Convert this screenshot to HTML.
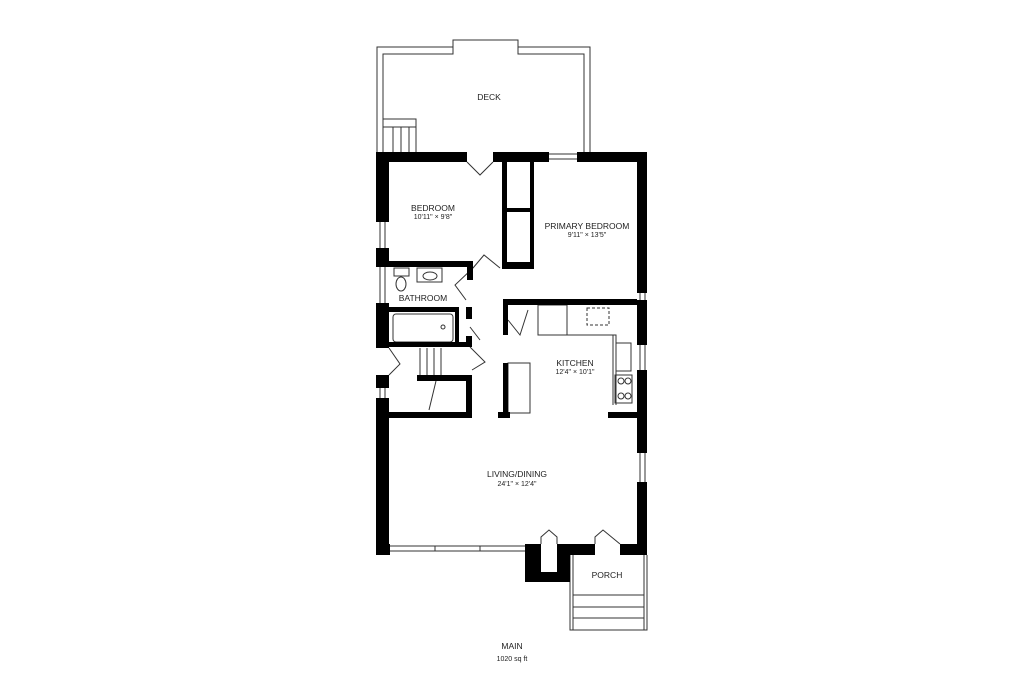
<!DOCTYPE html>
<html><head><meta charset="utf-8"><style>
html,body{margin:0;padding:0;background:#fff;}
svg{display:block;}
text{font-family:"Liberation Sans",sans-serif;fill:#222;text-anchor:middle;}
.l{font-size:8.5px;}
.d{font-size:7px;}
</style></head><body>
<svg width="1024" height="683" viewBox="0 0 1024 683" xmlns="http://www.w3.org/2000/svg">
<g fill="none" stroke="#333" stroke-width="1">
<!-- deck -->
<path d="M377,152 V47 H453 V40 H518 V47 H590 V152"/>
<path d="M383,152 V127 H416 V152 M383,127 V54 H453 V47 M518,47 V54 H584 V152"/>
<path d="M383,119 H416 V127"/>
<path d="M393,127V152 M401,127V152 M409,127V152"/>
<!-- windows -->
<path d="M549,154H577 M549,159H577"/>
<path d="M380,222V249 M385,222V249 M380,267V303 M385,267V303 M380,388V398 M385,388V398"/>
<path d="M640,293V300 M645,293V300 M640,345V370 M645,345V370 M640,453V482 M645,453V482"/>
<path d="M390,546H525 M390,551H525 M435,546V551 M480,546V551"/>
<!-- porch -->
<path d="M570,555V630H647V555 M573,555V630 M644,555V630 M573,595H644 M573,607H644 M573,618H644"/>
<!-- closets doors -->
<path d="M532,165V210 M504,215V260"/>
<!-- fixtures -->
<rect x="393" y="314" width="60" height="28" rx="3"/>
<circle cx="443" cy="327" r="2"/>
<rect x="394" y="268" width="15" height="8"/>
<ellipse cx="401" cy="284" rx="5" ry="7"/>
<rect x="417" y="268" width="25" height="14"/>
<ellipse cx="430" cy="276" rx="7" ry="4"/>
<rect x="538" y="305" width="29" height="30"/>
<path d="M567,335H616V405 M613,335V405" />
<rect x="587" y="308" width="22" height="17" stroke-dasharray="3,2"/>
<rect x="616" y="343" width="15" height="28"/>
<rect x="615" y="375" width="17" height="28"/>
<circle cx="621" cy="381" r="3"/><circle cx="628" cy="381" r="3"/><circle cx="621" cy="396" r="3"/><circle cx="628" cy="396" r="3"/>
<rect x="508" y="363" width="22" height="50"/>
<!-- stairs -->
<path d="M420,348V375 M427,348V375 M434,348V375 M441,348V375 M436,381L429,410"/>
<!-- doors -->
<path d="M467,162 L480,175 L493,162"/>
<path d="M473,268 L484,255 L500,268 M473,268 L455,285 L466,300"/>
<path d="M508,320 L520,335 L528,310"/>
<path d="M470,327 L480,340"/>
<path d="M389,348 L400,364 L389,375"/>
<path d="M470,347 L485,362 L472,370"/>
<path d="M541,544 V537 L549,530 L557,537 V544"/>
<path d="M595,544 V537 L603,530 L620,544"/>
</g>
<g fill="#000">
<!-- outer walls -->
<rect x="376" y="152" width="91" height="10"/>
<rect x="493" y="152" width="56" height="10"/>
<rect x="577" y="152" width="70" height="10"/>
<rect x="376" y="152" width="13" height="70"/>
<rect x="376" y="248" width="13" height="19"/>
<rect x="376" y="303" width="13" height="45"/>
<rect x="376" y="375" width="13" height="13"/>
<rect x="376" y="398" width="13" height="157"/>
<rect x="376" y="544" width="14" height="11"/>
<rect x="637" y="152" width="10" height="141"/>
<rect x="637" y="300" width="10" height="45"/>
<rect x="637" y="370" width="10" height="83"/>
<rect x="637" y="482" width="10" height="73"/>
<rect x="620" y="544" width="27" height="11"/>
<rect x="570" y="544" width="25" height="11"/>
<rect x="525" y="544" width="16" height="38"/>
<rect x="525" y="572" width="45" height="10"/>
<rect x="557" y="544" width="13" height="38"/>
<!-- interior -->
<rect x="389" y="261" width="84" height="6"/>
<rect x="467" y="261" width="6" height="19"/>
<rect x="502" y="161" width="5" height="107"/>
<rect x="530" y="161" width="4" height="107"/>
<rect x="502" y="262" width="32" height="7"/>
<rect x="507" y="208" width="25" height="4"/>
<rect x="389" y="307" width="70" height="5"/>
<rect x="455" y="307" width="4" height="40"/>
<rect x="466" y="307" width="6" height="12"/>
<rect x="466" y="336" width="6" height="11"/>
<rect x="389" y="342" width="83" height="5"/>
<rect x="503" y="299" width="134" height="6"/>
<rect x="503" y="299" width="5" height="36"/>
<rect x="503" y="363" width="5" height="55"/>
<rect x="498" y="412" width="12" height="6"/>
<rect x="417" y="375" width="55" height="6"/>
<rect x="466" y="375" width="6" height="43"/>
<rect x="389" y="412" width="83" height="6"/>
<rect x="608" y="412" width="29" height="6"/>
</g>
<text class="l" x="489" y="100">DECK</text>
<text class="l" x="433" y="211">BEDROOM</text>
<text class="d" x="433" y="219">10'11" × 9'8"</text>
<text class="l" x="587" y="229">PRIMARY BEDROOM</text>
<text class="d" x="587" y="237">9'11" × 13'5"</text>
<text class="l" x="423" y="301">BATHROOM</text>
<text class="l" x="575" y="366">KITCHEN</text>
<text class="d" x="575" y="374">12'4" × 10'1"</text>
<text class="l" x="517" y="477">LIVING/DINING</text>
<text class="d" x="517" y="486">24'1" × 12'4"</text>
<text class="l" x="607" y="578">PORCH</text>
<text class="l" x="512" y="649">MAIN</text>
<text class="d" x="512" y="661">1020 sq ft</text>
</svg>
</body></html>
